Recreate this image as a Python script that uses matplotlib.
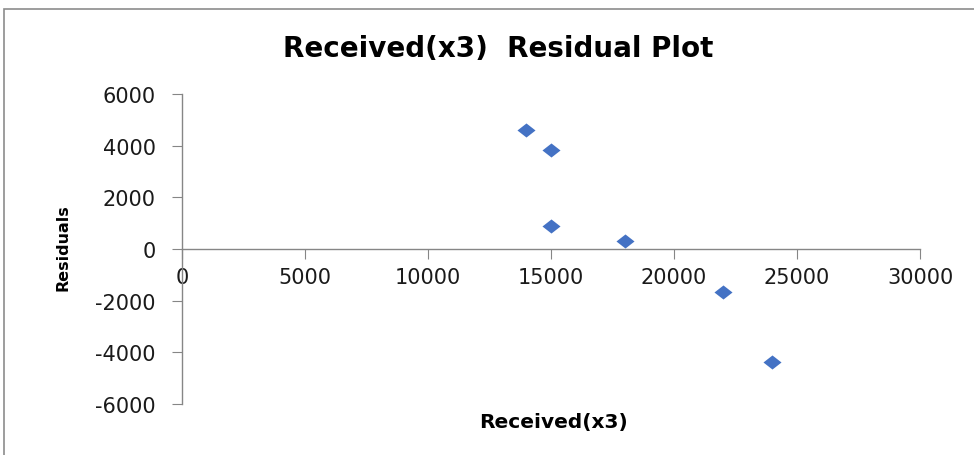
import matplotlib.pyplot as plt
from matplotlib.patches import Rectangle

# Datos
received = [14000, 15000, 15000, 18000, 22000, 24000]
residuals = [4600, 3850, 900, 300, -1680, -4380]
x_ticks = [0, 5000, 10000, 15000, 20000, 25000, 30000]
y_ticks = [-6000, -4000, -2000, 0, 2000, 4000, 6000]

axis_color = '#868686'
plt.rcParams['axes.unicode_minus'] = False

fig = plt.figure(figsize=(9.74, 4.56), dpi=100)
ax = fig.add_axes([0.1869, 0.1118, 0.7577, 0.6798])

# marco exterior del gráfico
fig.patches.append(Rectangle((0.004, -0.2), 1.2, 1.2 - 10 / 456, transform=fig.transFigure,
                             fill=False, edgecolor='#8c8c8c', linewidth=1.2))

# rombo un poco achatado, como en Excel
diamond = [(-1, 0), (0, 0.78), (1, 0), (0, -0.78), (-1, 0)]
ax.plot(received, residuals, linestyle='none', marker=diamond, markersize=13,
        color='#4472C4', markeredgewidth=0)

ax.set_xlim(0, 30000)
ax.set_ylim(-6000, 6000)
ax.set_xticks(x_ticks)
ax.set_yticks(y_ticks)

ax.spines['top'].set_visible(False)
ax.spines['right'].set_visible(False)
ax.spines['bottom'].set_position(('data', 0))
for s in ('left', 'bottom'):
    ax.spines[s].set_color(axis_color)
    ax.spines[s].set_linewidth(1.0)

ax.tick_params(axis='x', direction='out', length=7, color=axis_color, pad=6,
               labelsize=15, labelcolor='#1a1a1a')
ax.tick_params(axis='y', direction='out', length=7, color=axis_color, pad=12,
               labelsize=15, labelcolor='#1a1a1a')

fig.text(0.511, 0.893, 'Received(x3)  Residual Plot', ha='center', va='center',
         fontsize=20, fontweight='bold', color='black')
fig.text(0.568, 0.074, 'Received(x3)', ha='center', va='center',
         fontsize=14.5, fontweight='bold', color='black')
fig.text(0.065, 0.456, 'Residuals', ha='center', va='center', rotation=90,
         fontsize=11.5, fontweight='bold', color='black')

fig.savefig('out.png', dpi=100)
